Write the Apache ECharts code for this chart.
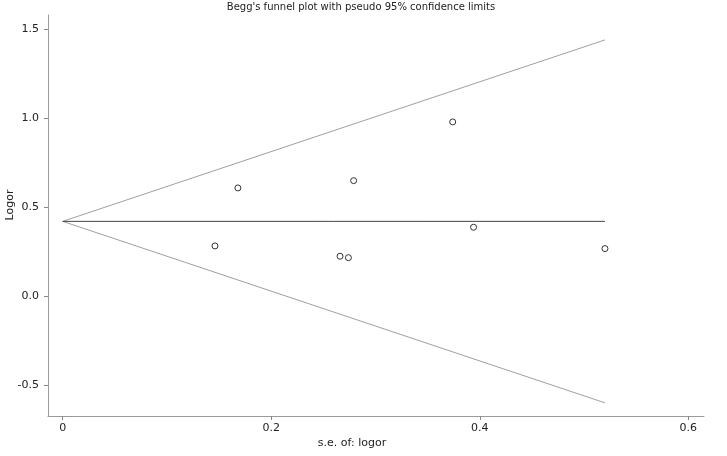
<!DOCTYPE html>
<html><head><meta charset="utf-8">
<script src="https://cdn.jsdelivr.net/npm/echarts@6/dist/echarts.min.js"></script>
<style>html,body{margin:0;padding:0;background:#fff}#c{width:727px;height:456px}</style>
</head><body><div id="c"></div>
<script>
var seValues = [0.146, 0.168, 0.266, 0.274, 0.279, 0.374, 0.394, 0.520];
var logorValues = [0.282, 0.608, 0.224, 0.216, 0.649, 0.979, 0.387, 0.267];
var funnelSe = [0, 0.52];
var centerLine = [0.42, 0.42];
var upperLimit = [0.42, 1.44];
var lowerLimit = [0.42, -0.60];
var xTicks = [0, 0.2, 0.4, 0.6];
var yTicks = [-0.5, 0.0, 0.5, 1.0, 1.5];
var titleText = "Begg's funnel plot with pseudo 95% confidence limits";
var xName = "s.e. of: logor";
var yName = "Logor";

var FONT = "DejaVu Sans";
function pairs(xs, ys){ return xs.map(function(x,i){return [x, ys[i]];}); }
var chart = echarts.init(document.getElementById('c'), null, {renderer:'canvas'});
chart.setOption({
  animation:false,
  backgroundColor:'#fff',
  grid:{left:48, right:23, top:15, bottom:40, containLabel:false},
  xAxis:{type:'value', min:-0.0141, max:0.615,
    axisLine:{show:true, onZero:false, lineStyle:{color:'#9a9a9a'}},
    axisTick:{show:true, inside:false, length:4, lineStyle:{color:'#888', width:1}, customValues:xTicks},
    axisLabel:{fontFamily:FONT, fontSize:11, color:'#222', margin:7, customValues:xTicks,
      formatter:function(v){return v===0?'0':String(v);}},
    splitLine:{show:false}},
  yAxis:{type:'value', min:-0.674, max:1.58,
    axisLine:{show:true, onZero:false, lineStyle:{color:'#9a9a9a'}},
    axisTick:{show:true, inside:false, length:4, lineStyle:{color:'#888', width:1}, customValues:yTicks},
    axisLabel:{fontFamily:FONT, fontSize:11, color:'#222', margin:9, customValues:yTicks,
      formatter:function(v){return v.toFixed(1);}},
    splitLine:{show:false}},
  graphic:[
    {type:'text', x:361, y:7, style:{text:titleText, font:'10px "'+FONT+'"', fill:'#222', textAlign:'center', textVerticalAlign:'middle'}},
    {type:'text', x:352, y:443, style:{text:xName, font:'11px "'+FONT+'"', fill:'#222', textAlign:'center', textVerticalAlign:'middle'}},
    {type:'text', x:10, y:205, rotation:Math.PI/2, style:{text:yName, font:'11px "'+FONT+'"', fill:'#222', textAlign:'center', textVerticalAlign:'middle'}}
  ],
  series:[
    {type:'line', data:pairs(funnelSe, upperLimit), symbol:'none', lineStyle:{color:'#a0a0a0', width:1}},
    {type:'line', data:pairs(funnelSe, lowerLimit), symbol:'none', lineStyle:{color:'#a0a0a0', width:1}},
    {type:'line', data:pairs(funnelSe, centerLine), symbol:'none', lineStyle:{color:'#444', width:1}},
    {type:'scatter', data:pairs(seValues, logorValues), symbol:'circle', symbolSize:6, z:5,
      itemStyle:{color:'#ffffff', borderColor:'#333', borderWidth:1, opacity:1}}
  ]
});
</script></body></html>
